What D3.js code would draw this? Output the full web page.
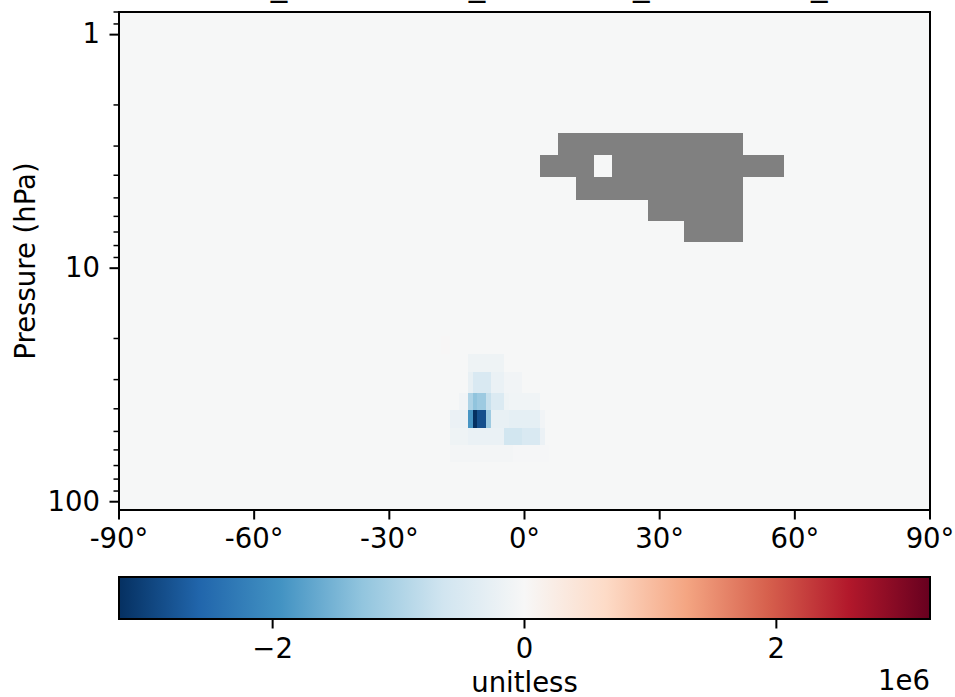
<!DOCTYPE html>
<html>
<head>
<meta charset="utf-8">
<script src="https://cdn.jsdelivr.net/npm/d3@7"></script>
<style>
  body { margin: 0; background: #fff; }
  svg { display: block; }
  svg text { font-family: "DejaVu Sans", sans-serif; fill: #000; }
  .axis line { stroke: #000; }
</style>
</head>
<body>
<svg id="chart"></svg>
<script>
// Latitude cell centres (deg) and pressure cell edges (hPa, top to bottom)
const latCenters = d3.range(-90, 91, 1);
const pressureEdges = [0.8, 1.03, 1.32, 1.67, 2.10, 2.65, 3.29, 4.09, 5.10, 6.31, 7.74, 9.41, 11.5,
  13.8, 16.5, 19.6, 23.3, 27.9, 34.2, 40.6, 48.2, 57.4, 67.4, 79.6, 92.0, 108.5];

// value of the field wherever nothing else is listed (unitless)
const backgroundValue = -1.2e4;

// [latFrom, latTo, levelIndex, value]
const anomalies = [
  [-18, -17, 15, 2e4],
  [-12, -5, 16, -1.5e5],
  [-12, -12, 17, -2.5e5], [-11, -8, 17, -5e5], [-7, -5, 17, -2.2e5], [-4, -1, 17, -1e5],
  [-14, -13, 18, -1e5], [-12, -12, 18, -1.0e6], [-11, -11, 18, -1.3e6], [-10, -9, 18, -1.18e6],
  [-8, -8, 18, -7.5e5], [-7, -5, 18, -4.7e5], [-4, -4, 18, -1.5e5], [-3, 3, 18, -1.2e5],
  [-16, -13, 19, -2e5], [-12, -12, 19, -1.9e6], [-11, -11, 19, -3.22e6], [-10, -9, 19, -2.85e6],
  [-8, -8, 19, -1.18e6], [-7, -4, 19, -2.5e5], [-3, 3, 19, -3e5], [4, 4, 19, -1e5],
  [-16, -13, 20, -1.5e5], [-12, -5, 20, -2.2e5], [-4, -1, 20, -6.2e5], [0, 3, 20, -5e5], [4, 4, 20, -2e5],
  [-16, -3, 21, -6e4], [-2, 5, 21, -4e4]
];

// cells with no data: [latFrom, latTo, levelIndex]
const missing = [
  [8, 48, 5],
  [4, 15, 6], [20, 57, 6],
  [12, 48, 7],
  [28, 48, 8],
  [36, 48, 9]
];

const xTicks = [-90, -60, -30, 0, 30, 60, 90];
const yTicks = [1, 10, 100];
const cbarTicks = [-2e6, 0, 2e6];
const colorLimit = 3.22e6;
const rdbuR = ['#053061', '#2166ac', '#4393c3', '#92c5de', '#d1e5f0', '#f7f7f7',
  '#fddbc7', '#f4a582', '#d6604d', '#b2182b', '#67001f'];
const chartTitle = 'MLS O3_zonalmean_residuals_ensemble_ratio';

const FONT = '"DejaVu Sans", sans-serif';
const FONT_SIZE = 27.5;

class PressureSection {

  constructor(_config) {
    this.config = {
      parentElement: _config.parentElement,
      containerWidth: 955,
      containerHeight: 697,
      plot: { left: 119, right: 930, top: 12, bottom: 510 },
      cbar: { top: 577, height: 42 }
    };
    this.initVis();
  }

  initVis() {
    let vis = this;
    const p = vis.config.plot;

    vis.svg = d3.select(vis.config.parentElement)
      .attr('width', vis.config.containerWidth)
      .attr('height', vis.config.containerHeight);

    vis.xScale = d3.scaleLinear()
      .domain([-90, 90])
      .range([p.left, p.right]);

    vis.yScale = d3.scaleLog()
      .domain([pressureEdges[0], pressureEdges[pressureEdges.length - 1]])
      .range([p.top, p.bottom]);

    vis.colorScale = d3.scaleLinear()
      .domain(rdbuR.map((c, i) => -colorLimit + 2 * colorLimit * i / (rdbuR.length - 1)))
      .range(rdbuR)
      .clamp(true);

    vis.svg.append('clipPath')
      .attr('id', 'plot-clip')
      .append('rect')
      .attr('x', p.left)
      .attr('y', p.top)
      .attr('width', p.right - p.left)
      .attr('height', p.bottom - p.top);

    vis.cellG = vis.svg.append('g').attr('clip-path', 'url(#plot-clip)');
    vis.updateVis();
  }

  updateVis() {
    let vis = this;

    // build the grid: background, then anomalies, then missing cells
    vis.cells = [];
    for (let lev = 0; lev < pressureEdges.length - 1; lev++) {
      latCenters.forEach(lat => {
        let value = backgroundValue;
        anomalies.forEach(([a, b, l, v]) => {
          if (l === lev && lat >= a && lat <= b) value = v;
        });
        missing.forEach(([a, b, l]) => {
          if (l === lev && lat >= a && lat <= b) value = NaN;
        });
        vis.cells.push({ lat, lev, value });
      });
    }
    vis.renderVis();
  }

  styleAxis(g) {
    g.attr('font-family', FONT).attr('font-size', FONT_SIZE);
    g.select('.domain').remove();
    g.selectAll('line').attr('stroke-width', 2);
  }

  renderVis() {
    let vis = this;
    const p = vis.config.plot;
    const c = vis.config.cbar;

    vis.cellG.selectAll('.cell')
      .data(vis.cells)
      .join('rect')
      .attr('class', 'cell')
      .attr('x', d => vis.xScale(d.lat - 0.5))
      .attr('width', d => vis.xScale(d.lat + 0.5) - vis.xScale(d.lat - 0.5))
      .attr('y', d => vis.yScale(pressureEdges[d.lev]))
      .attr('height', d => vis.yScale(pressureEdges[d.lev + 1]) - vis.yScale(pressureEdges[d.lev]))
      .attr('fill', d => isNaN(d.value) ? '#808080' : vis.colorScale(d.value))
      .attr('shape-rendering', 'crispEdges');

    // x axis
    const xAxis = d3.axisBottom(vis.xScale)
      .tickValues(xTicks)
      .tickSize(9.5)
      .tickPadding(9)
      .offset(0)
      .tickFormat(d => `${d}°`);
    vis.svg.append('g')
      .attr('class', 'axis x-axis')
      .attr('transform', `translate(0,${p.bottom})`)
      .call(xAxis)
      .call(g => vis.styleAxis(g));

    // y axis, log scale with minor ticks
    const yAxis = d3.axisLeft(vis.yScale)
      .tickValues(yTicks)
      .tickSize(9.5)
      .tickPadding(9.5)
      .offset(0)
      .tickFormat(d3.format('d'));
    vis.svg.append('g')
      .attr('class', 'axis y-axis')
      .attr('transform', `translate(${p.left},0)`)
      .call(yAxis)
      .call(g => vis.styleAxis(g));

    const minorTicks = vis.yScale.ticks().filter(t => !yTicks.includes(t));
    vis.svg.append('g')
      .attr('class', 'axis y-minor')
      .selectAll('line')
      .data(minorTicks)
      .join('line')
      .attr('x1', p.left - 5.5)
      .attr('x2', p.left)
      .attr('y1', d => vis.yScale(d))
      .attr('y2', d => vis.yScale(d))
      .attr('stroke-width', 1.5);

    // frame
    vis.svg.append('rect')
      .attr('x', p.left)
      .attr('y', p.top)
      .attr('width', p.right - p.left)
      .attr('height', p.bottom - p.top)
      .attr('fill', 'none')
      .attr('stroke', '#000')
      .attr('stroke-width', 2);

    vis.svg.append('text')
      .attr('class', 'axis-title')
      .attr('transform', `translate(35,${(p.top + p.bottom) / 2}) rotate(-90)`)
      .attr('text-anchor', 'middle')
      .attr('font-family', FONT)
      .attr('font-size', FONT_SIZE)
      .text('Pressure (hPa)');

    // title (sits mostly above the visible area, as in the original figure)
    vis.svg.append('text')
      .attr('class', 'chart-title')
      .attr('x', (p.left + p.right) / 2)
      .attr('y', -5)
      .attr('text-anchor', 'middle')
      .attr('font-family', FONT)
      .attr('font-size', 33)
      .text(chartTitle);

    // colorbar
    const cScale = d3.scaleLinear()
      .domain([-colorLimit, colorLimit])
      .range([p.left, p.right]);

    const grad = vis.svg.append('defs')
      .append('linearGradient')
      .attr('id', 'cbar-grad');
    grad.selectAll('stop')
      .data(vis.colorScale.domain())
      .join('stop')
      .attr('offset', d => (cScale(d) - p.left) / (p.right - p.left))
      .attr('stop-color', d => vis.colorScale(d));

    vis.svg.append('rect')
      .attr('x', p.left)
      .attr('y', c.top)
      .attr('width', p.right - p.left)
      .attr('height', c.height)
      .attr('fill', 'url(#cbar-grad)')
      .attr('stroke', '#000')
      .attr('stroke-width', 2);

    const cAxis = d3.axisBottom(cScale)
      .tickValues(cbarTicks)
      .tickSize(9.5)
      .tickPadding(9.5)
      .offset(0)
      .tickFormat(d => d === 0 ? '0' : (d < 0 ? '\u2212' : '') + Math.abs(d / 1e6));
    vis.svg.append('g')
      .attr('class', 'axis c-axis')
      .attr('transform', `translate(0,${c.top + c.height})`)
      .call(cAxis)
      .call(g => vis.styleAxis(g));

    vis.svg.append('text')
      .attr('x', (p.left + p.right) / 2)
      .attr('y', 692)
      .attr('text-anchor', 'middle')
      .attr('font-family', FONT)
      .attr('font-size', FONT_SIZE)
      .text('unitless');

    vis.svg.append('text')
      .attr('x', p.right)
      .attr('y', 690)
      .attr('text-anchor', 'end')
      .attr('font-family', FONT)
      .attr('font-size', FONT_SIZE)
      .text('1e6');
  }
}

const chart = new PressureSection({ parentElement: '#chart' });
</script>
</body>
</html>
